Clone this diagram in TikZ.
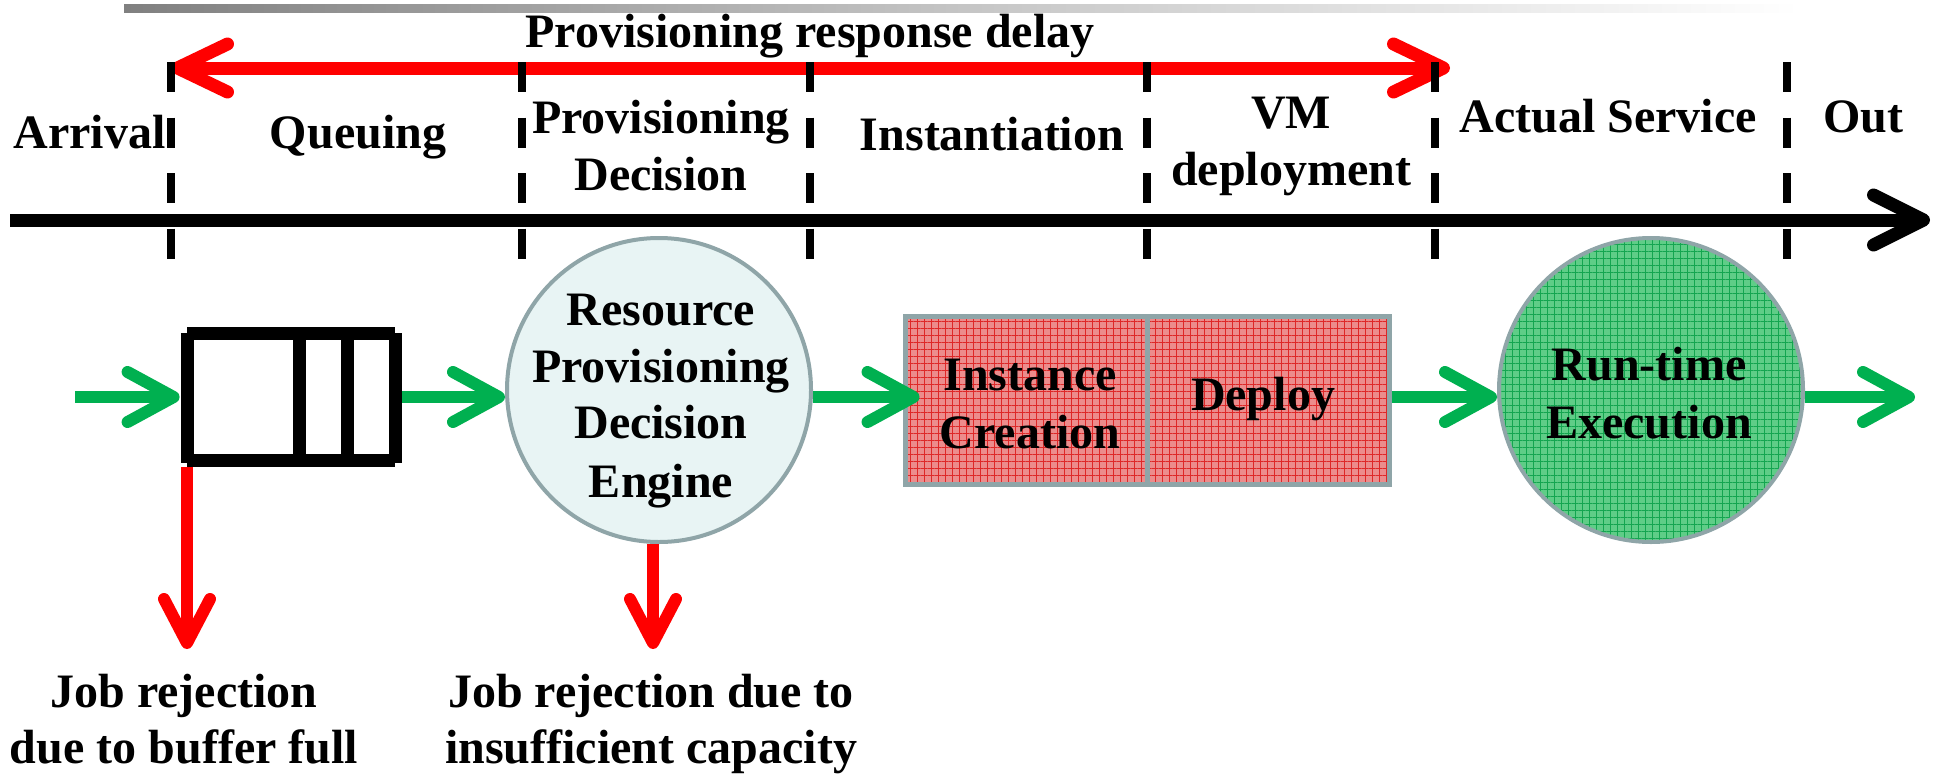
\documentclass[tikz,border=0pt]{standalone}
\usepackage{fontspec}
\setmainfont{Liberation Serif}
\usetikzlibrary{arrows.meta,patterns.meta,calc}
\definecolor{gr}{RGB}{0,176,80}
\definecolor{rd}{RGB}{255,0,0}
\definecolor{bord}{RGB}{143,165,168}
\definecolor{lblue}{RGB}{232,244,244}
\definecolor{pinkfill}{RGB}{236,140,140}
\definecolor{pinkline}{RGB}{222,40,40}
\definecolor{gfill}{RGB}{95,205,135}
\definecolor{gline}{RGB}{20,165,80}
\definecolor{barleft}{RGB}{128,128,128}
\definecolor{barmid}{RGB}{200,200,200}
\begin{document}
\begin{tikzpicture}[x=0.5pt,y=-0.5pt,
  lbl/.style={font=\fontsize{24}{28}\selectfont\bfseries, anchor=base, inner sep=0pt},
  flow/.style={draw=gr, line width=6pt, -{Straight Barb[length=23pt,width=25pt,round]}},
  drop/.style={draw=rd, line width=6pt, -{Straight Barb[length=22pt,width=23pt,round]}},
  dashline/.style={draw=black, line width=4pt, dash pattern=on 15pt off 12.75pt},
  qline/.style={draw=black, line width=6.5pt, line cap=butt},
  engine/.style={circle, draw=bord, line width=2pt, minimum size=152pt, inner sep=0pt},
  stagebox/.style={rectangle, draw=bord, line width=2.5pt, minimum width=121pt, minimum height=84pt, inner sep=0pt,
     preaction={fill=pinkfill}, pattern={Hatch[angle=0,distance=3.5pt,line width=0.45pt]}, pattern color=pinkline}
]
\useasboundingbox (0,0) rectangle (1937,776);

% top gradient bar
\shade[left color=barleft, right color=barmid] (124,4) rectangle (1000,12);
\shade[left color=barmid, right color=white] (1000,4) rectangle (1800,12);

% title and provisioning delay arrow
\node[lbl] (title) at (810,47) {Provisioning response delay};
\coordinate (pdl) at (171,68);
\coordinate (pdr) at (1450,68);
\draw[rd, line width=6.5pt, {Straight Barb[length=25pt,width=24pt,round]}-{Straight Barb[length=25pt,width=24pt,round]}] (pdl) -- (pdr);

% stage separators
\foreach \x in {171,522,810,1147,1435,1787}
  \draw[dashline] (\x,62) -- (\x,262);

% time axis
\coordinate (ax0) at (10,220);
\coordinate (ax1) at (1930,220);
\draw[black, line width=6.5pt, -{Straight Barb[length=25pt,width=25pt,round]}] (ax0) -- (ax1);

% stage labels
\node[lbl, anchor=base east] (arrival) at (166,148) {Arrival};
\node[lbl] (queuing) at (358,148) {Queuing};
\node[lbl] (provA) at (661,133) {Provisioning};
\node[lbl] (provB) at (661,190) {Decision};
\node[lbl] (inst) at (992,150) {Instantiation};
\node[lbl] (vmA) at (1291,128) {VM};
\node[lbl] (vmB) at (1291,185) {deployment};
\node[lbl] (actual) at (1608,132) {Actual Service};
\node[lbl] (outl) at (1863,132) {Out};

% flow row reference
\coordinate (fy) at (0,397);

% queue
\node[minimum width=111pt, minimum height=70.5pt, inner sep=0pt] (queue) at (291,396.5) {};
\draw[qline] (187,333) -- (395,333);
\draw[qline] (187,460) -- (395,460);
\draw[qline] (187,333) -- (187,463);
\draw[qline] (395,333) -- (395,463);
\draw[qline] (299,333) -- (299,460);
\draw[qline] (347,333) -- (347,460);

% decision engine
\node[engine, fill=lblue] (rpd) at (659,390) {};
\node[lbl] (rpd1) at (661,325) {Resource};
\node[lbl] (rpd2) at (661,382) {Provisioning};
\node[lbl] (rpd3) at (661,438) {Decision};
\node[lbl] (rpd4) at (661,497) {Engine};

% instantiation and deployment
\node[stagebox] (ic) at (1026,400) {};
\node[stagebox] (dep) at (1268,400) {};
\node[lbl] (ic1) at (1030,390) {Instance};
\node[lbl] (ic2) at (1030,448) {Creation};
\node[lbl] (dep1) at (1263,410) {Deploy};

% run-time execution
\node[engine, preaction={fill=gfill}, pattern={Hatch[angle=0,distance=3.5pt,line width=0.45pt]}, pattern color=gline] (rte) at (1651,390) {};
\node[lbl] (rte1) at (1649,380) {Run-time};
\node[lbl] (rte2) at (1649,438) {Execution};

% flow arrows
\coordinate (inflow) at (75,397);
\coordinate (outflow) at (1915,397);
\draw[flow] (inflow) -- (queue.west |- fy);
\draw[flow] (queue.east |- fy) -- (rpd.west |- fy);
\draw[flow] (rpd.east |- fy) -- ($(ic.west |- fy)+(15,0)$);
\draw[flow] (dep.east |- fy) -- (rte.west |- fy);
\draw[flow] (rte.east |- fy) -- (outflow);

% rejections
\coordinate (rj1) at (187,649);
\coordinate (rj2) at (653,649);
\draw[drop] (rj1 |- queue.south) -- (rj1);
\draw[drop] (rj2 |- rpd.south) -- (rj2);
\node[lbl] (rej1a) at (184,707) {Job rejection};
\node[lbl] (rej1b) at (184,763) {due to buffer full};
\node[lbl] (rej2a) at (651,707) {Job rejection due to};
\node[lbl] (rej2b) at (651,763) {insufficient capacity};
\end{tikzpicture}
\end{document}
